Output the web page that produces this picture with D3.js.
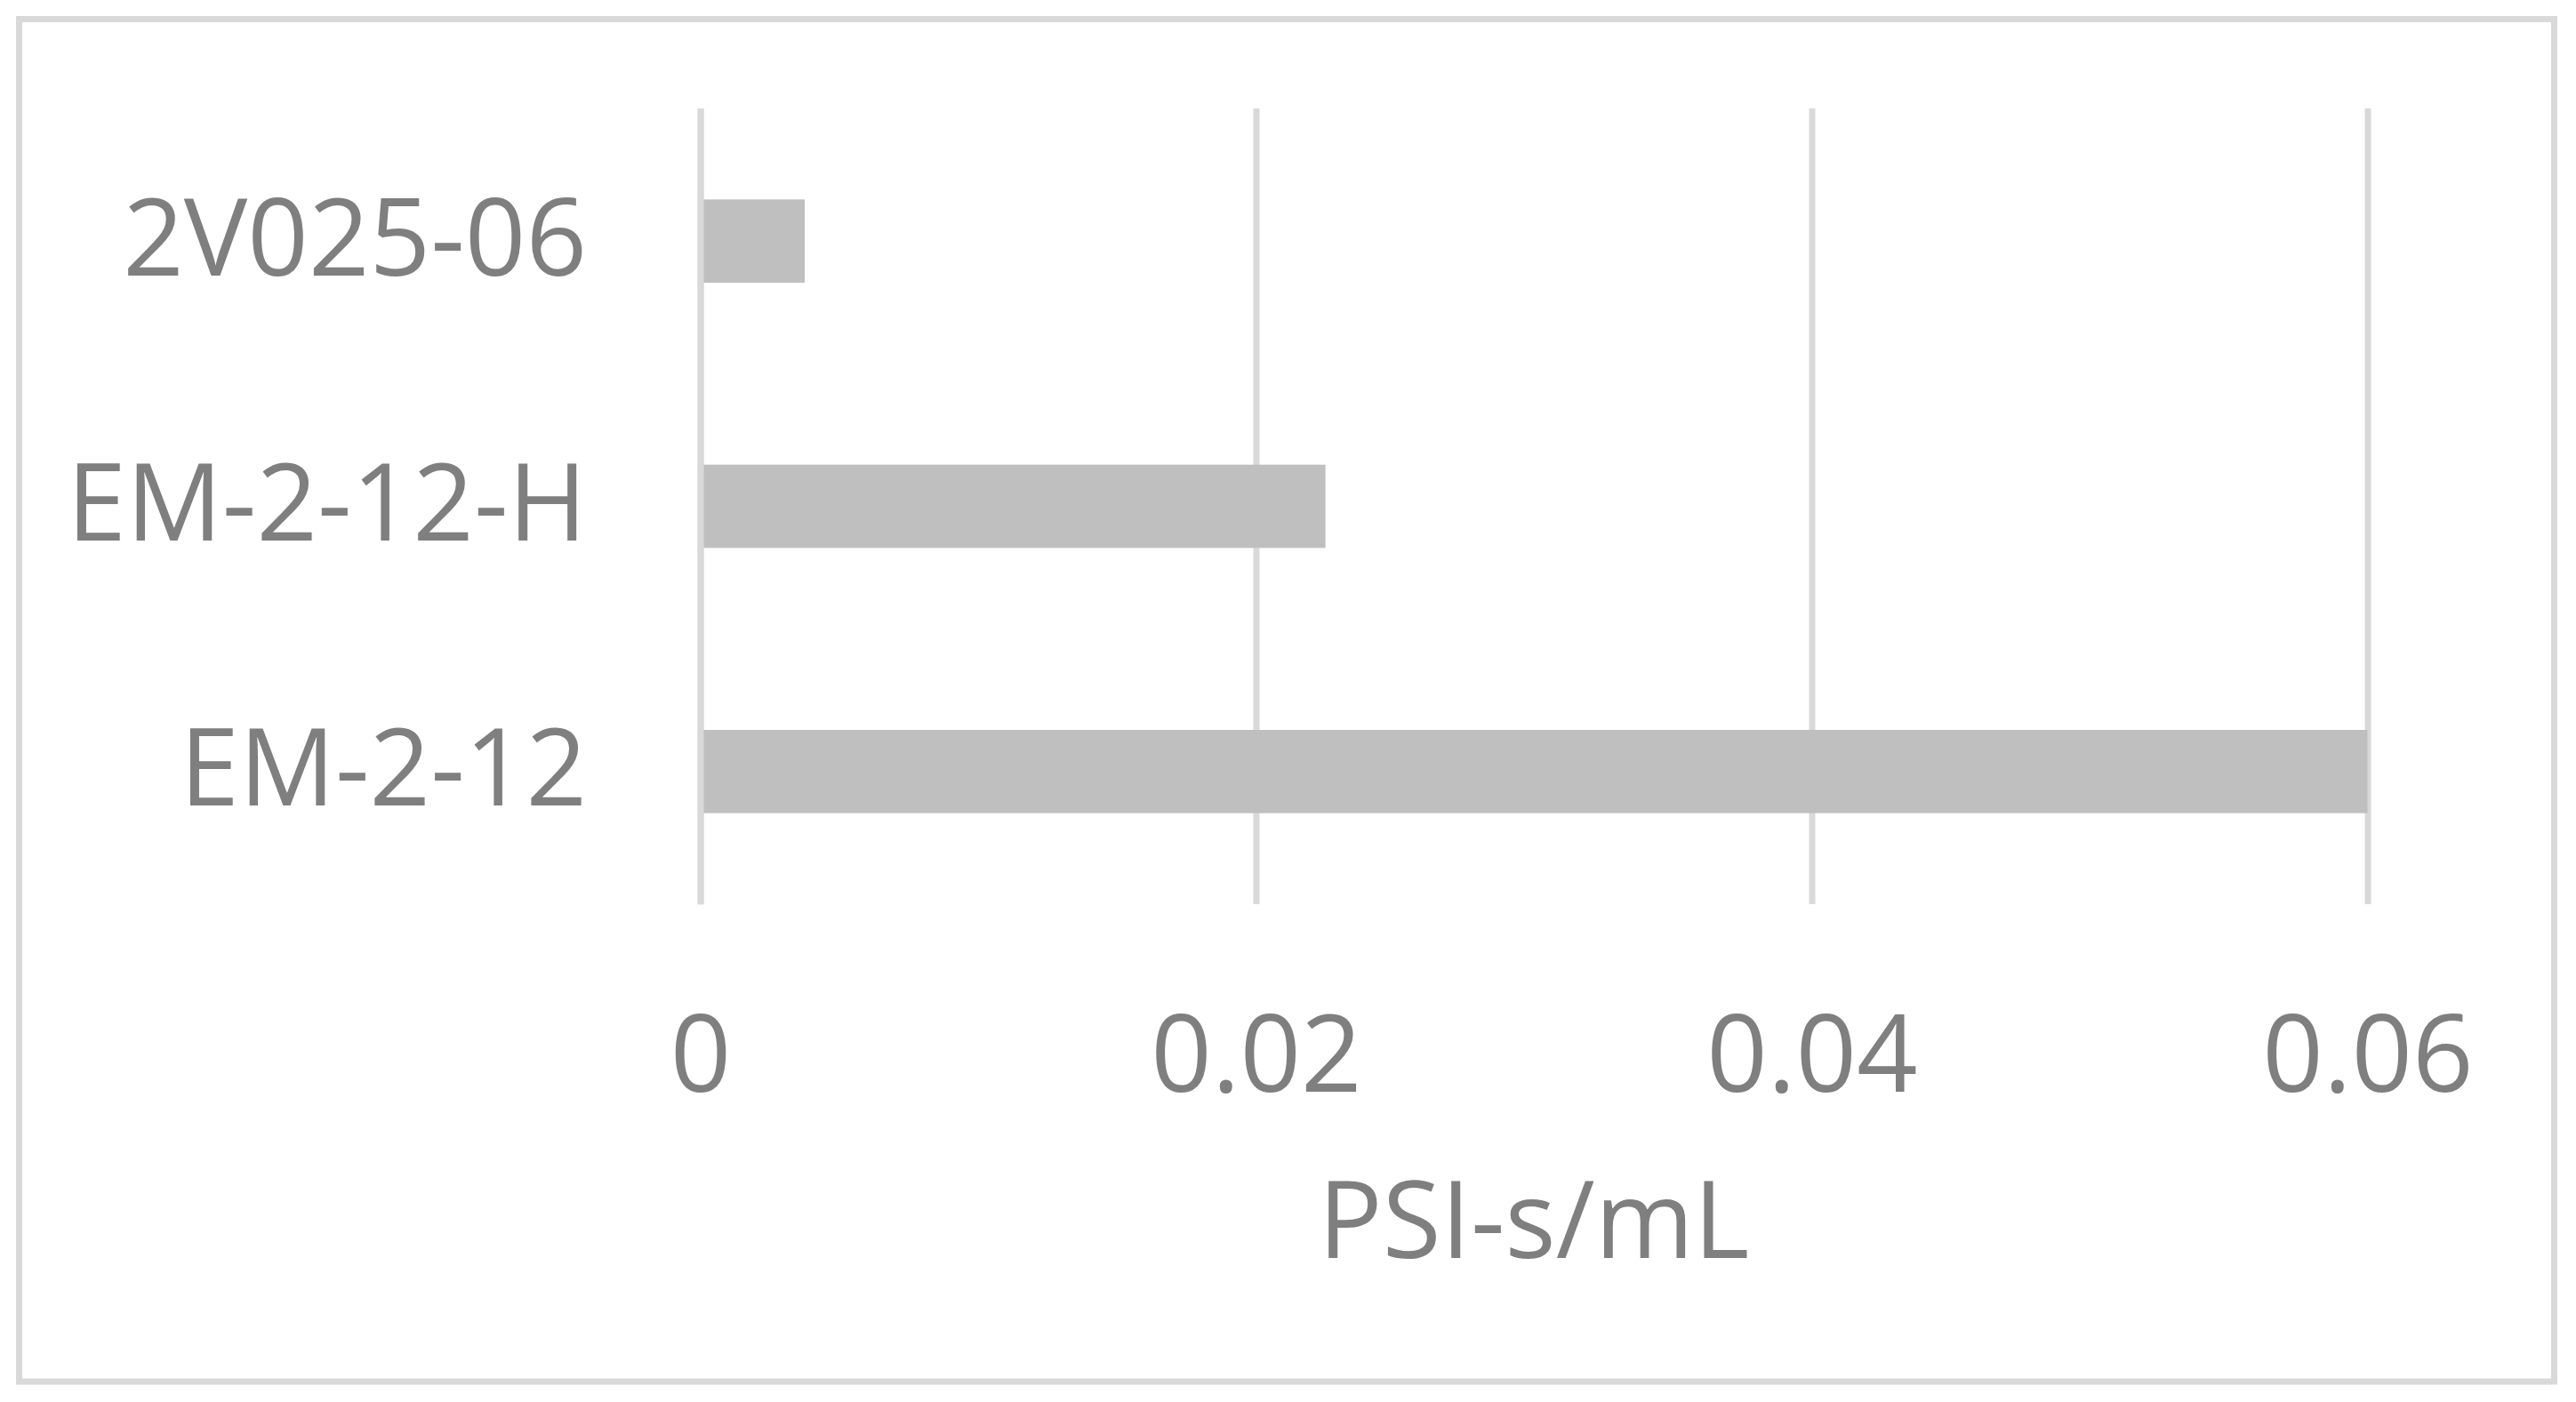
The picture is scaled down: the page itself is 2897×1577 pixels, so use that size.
<html>
<head>
  <meta charset="utf-8"/>
  <title>PSI-s/mL</title>
  <style>
    body { margin: 0; background: #fff; }
    svg text { font-family: "Open Sans", sans-serif; fill: #7f7f7f; }
  </style>
</head>
<body>
  <div id="chart"></div>

  <script src="https://d3js.org/d3.v7.min.js"></script>
  <script>

  // data, top to bottom as shown
  var categories = ["2V025-06", "EM-2-12-H", "EM-2-12"];
  var values = [0.00376, 0.0225, 0.06];
  var tickValues = [0, 0.02, 0.04, 0.06];
  var tickLabels = ["0", "0.02", "0.04", "0.06"];
  var axisTitle = "PSI-s/mL";

  var W = 2897, H = 1577;
  var plotLeft = 787.5, plotRight = 2662.5, plotTop = 122, plotBottom = 1017;
  var fontSize = 120;

  var svg = d3.select("#chart")
    .append("svg")
    .attr("width", W)
    .attr("height", H);

  // outer chart border
  svg.append("rect")
    .attr("x", 21.5)
    .attr("y", 21.5)
    .attr("width", 2872.5 - 21.5)
    .attr("height", 1554 - 21.5)
    .attr("fill", "none")
    .attr("stroke", "#d9d9d9")
    .attr("stroke-width", 7);

  var x = d3.scaleLinear()
    .domain([0, 0.06])
    .range([plotLeft, plotRight]);

  var y = d3.scaleBand()
    .domain(categories)
    .range([plotTop, plotBottom])
    .paddingInner(0.686)
    .paddingOuter(0.343);

  //gridlines + tick labels:
  var xAxis = svg.append("g")
    .attr("transform", "translate(0," + plotBottom + ")")
    .call(d3.axisBottom(x)
      .tickValues(tickValues)
      .tickFormat(function(d, i){ return tickLabels[i]; })
      .tickSize(-(plotBottom - plotTop)));

  xAxis.select(".domain").remove();
  xAxis.selectAll(".tick line")
    .attr("stroke", "#d9d9d9")
    .attr("stroke-width", 7);
  xAxis.selectAll(".tick text")
    .attr("y", 211)
    .attr("dy", 0)
    .attr("font-size", fontSize)
    .attr("fill", "#7f7f7f");

  //bars:
  svg.append("g")
    .selectAll("rect")
    .data(categories)
    .enter()
    .append("rect")
    .attr("x", x(0))
    .attr("y", function(d){ return y(d); })
    .attr("width", function(d, i){ return x(values[i]) - x(0); })
    .attr("height", y.bandwidth())
    .attr("fill", "#bfbfbf");

  //category axis (drawn over bars):
  var yAxis = svg.append("g")
    .attr("transform", "translate(" + x(0) + ",0)")
    .call(d3.axisLeft(y).tickSize(0).tickPadding(127.5));

  yAxis.select(".domain")
    .attr("stroke", "#d9d9d9")
    .attr("stroke-width", 7);
  yAxis.selectAll(".tick text")
    .attr("font-size", fontSize)
    .attr("fill", "#7f7f7f");

  //axis title:
  svg.append("text")
    .attr("x", (plotLeft + plotRight) / 2)
    .attr("y", 1415)
    .attr("text-anchor", "middle")
    .attr("font-size", fontSize)
    .text(axisTitle);

  </script>
</body>
</html>
